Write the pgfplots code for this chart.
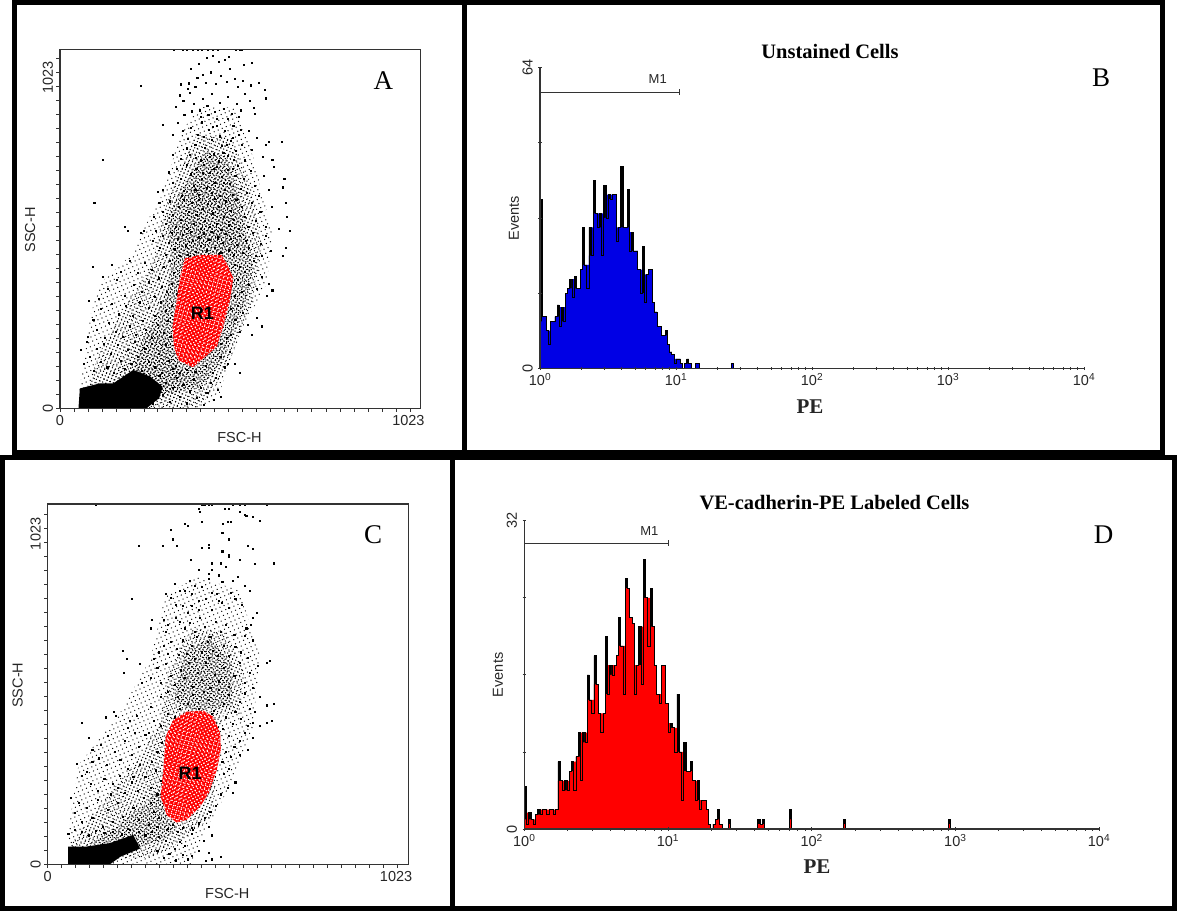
\documentclass[border=0pt]{standalone}
\usepackage{fontspec}
\setmainfont{Liberation Sans}
\newfontfamily\tms{Liberation Serif}
\usepackage{pgfplots}
\usepackage{pgfplotstable}
\usetikzlibrary{patterns.meta}
\pgfplotsset{compat=1.18}
\definecolor{axc}{gray}{0.2}
\newcommand{\labfont}{\fontsize{14.5}{15}\selectfont}
\pgfplotstableread{
ch f t
0 10 36
1 11 11
2 11 11
3 8 8
4 8 5
5 10 10
6 10 10
7 11 11
8 11 13.5
9 13 9
10 10 13
11 13 10
12 16 16
13 17 17
14 17 19
15 19 15
16 17 19.5
17 17 17
18 17 17
19 21 21
20 22 30
21 22 22
22 22 17
23 24 30
24 30 24
25 33 40
26 33 33
27 33 30
28 30 33
29 33 24
30 32 39
31 37 32
32 36 37
33 37 36
34 37 37
35 37 37
36 30 27
37 30 30
38 30 43
39 30 30
40 30 30
41 30 38
42 29 25
43 25 29
44 25 25
45 25 25
46 21 21
47 21 16
48 16 26
49 20 14
50 20 20
51 21 21
52 21 21
53 14 14
54 12 12
55 9 9
56 9 9
57 7 7
58 7 7
59 7 8
60 5 5
61 3.5 3.5
62 3 3
63 2 1
64 2 2
65 2 2
66 1 1
67 0 0
68 1 1
69 1 2
70 1 1
71 0 0
73 1 1
74 1 1
75 0 0
89 0 0
90 1 1
91 0 0
92 0 0
}\histB
\pgfplotstableread{
ch f t
0 1 4.4
1 1.7 0.5
2 1 1.7
3 1 1
4 1 0.5
5 1.5 1.5
6 1.5 2
7 2 1.5
8 2 2
9 2 2
10 2 1.5
11 2 2
12 2 2
13 2 1.5
14 2 2
15 5 7
16 5 5
17 5 4
18 4 5
19 5 4
20 6 6
21 6 7
22 7 4
23 7.5 7.5
24 7.5 10
25 10 5
26 9 10
27 10 9
28 13.4 16
29 13.4 13.4
30 13.4 12
31 15 18
32 15 15
33 12 12
34 12 10
35 12 12
36 14 20
37 17 14
38 16 17
39 17 16
40 17 17
41 18 18
42 19 22
43 19 19
44 19 14
45 25 26
46 25 25
47 22 22
48 21.3 21.3
49 17 14
50 17 17
51 17 21
52 21 15
53 24 28
54 24 24
55 24 19
56 21 25
57 21 21
58 17 17
59 14 14
60 14 13
61 17 17
62 17 17
63 13 13
64 11 10
65 10.5 11
66 10.5 10.5
67 10.5 8
68 8 14
69 8 8
70 8 3
71 6 9
72 6 6
73 6 6
74 6 7
75 5 5
76 5 3
77 3 5
78 3 2
79 3 3
80 3 3
81 2 2
82 0.5 0.5
83 0 0
84 0.5 0.5
85 1 1
86 1 2
87 0.5 0.5
88 0 0
90 0 0
91 0.5 1
92 0 0
103 0 0
104 0.5 1
105 0.5 0.5
106 0.5 1
107 0 0
117 0 0
118 1 2
119 0 0
141 0 0
142 0.5 1
143 0 0
188 0 0
189 0.5 1
190 0 0
}\histD
\pgfplotsset{
  common/.style={scale only axis, axis on top, clip mode=individual,
    axis line style={axc,line width=1.1pt},
    tick style={axc,line width=0.8pt}, tick align=outside,
    major tick length=3.5pt, minor tick length=3pt,
    every tick label/.append style={font=\labfont,text=black!85},
    label style={font=\labfont,text=black!85}},
  flow/.style={common, xmin=0, xmax=1054, ymin=0, ymax=1049,
    xtick pos=bottom, ytick pos=left,
    xtick={0,41,82,123,164,205,246,286,327,368,409,450,491,532,573,614,655,695,736,777,818,859,900,941,982},
    ytick={0,41,82,123,164,205,246,286,327,368,409,450,491,532,573,614,655,695,736,777,818,859,900,941,982},
    xticklabels={0}, yticklabels={0},
    yticklabel style={rotate=90,anchor=south},
    extra x ticks={1023}, extra x tick labels={1023},
    extra y ticks={1023}, extra y tick labels={1023},
    extra x tick style={xticklabel style={anchor=north east,xshift=18pt}},
    extra y tick style={yticklabel style={anchor=south east}},
    xlabel={FSC-H}, ylabel={SSC-H},
    xlabel style={at={(axis description cs:0.4975,-0.082)},anchor=center},
    ylabel style={at={(axis description cs:-0.083,0.497)},anchor=center,rotate=0},
  },
  hist/.style={common, xmin=0, xmax=256, ymin=0,
    axis x line=bottom, axis y line=left,
    axis line style={-},
    xtick={0,64,128,192,256},
    minor xtick={19.3,30.5,38.5,44.7,49.8,54.1,57.8,61.1,83.3,94.5,102.5,108.7,113.8,118.1,121.8,125.1,147.3,158.5,166.5,172.7,177.8,182.1,185.8,189.1,211.3,222.5,230.5,236.7,241.8,246.1,249.8,253.1},
    xticklabels={10\textsuperscript{0},10\textsuperscript{1},10\textsuperscript{2},10\textsuperscript{3},10\textsuperscript{4}},
    yticklabel style={rotate=90,anchor=south,yshift=2pt},
    xlabel={\tms\bfseries\fontsize{21}{22}\selectfont PE},
    ylabel={Events},
    title style={font=\tms\bfseries\fontsize{20.5}{22}\selectfont,text=black},
  },
  dots/.style={only marks, mark=square*, mark size=0.55pt, mark options={draw=none,fill=black}},
  sa/.style={draw=none, pattern={Dots[distance=4.4pt,radius=0.68pt,angle=23]}, pattern color=black},
  sb/.style={draw=none, pattern={Dots[distance=3.4pt,radius=0.72pt,angle=67]}, pattern color=black},
  sc/.style={draw=none, pattern={Dots[distance=2.8pt,radius=0.75pt,angle=41]}, pattern color=black},
  wa/.style={draw=none, pattern={Dots[distance=3.1pt,radius=0.78pt,angle=31]}, pattern color=white},
  wb/.style={draw=none, pattern={Dots[distance=4.1pt,radius=0.8pt,angle=73]}, pattern color=white},
}
\begin{document}
\begin{tikzpicture}[x=1pt,y=1pt]
\path[use as bounding box] (0,0) rectangle (1177,911);
% frames
\fill[black] (12,456) rectangle (17,911);
\fill[black] (12,906) rectangle (1165,911);
\fill[black] (462,456) rectangle (467,911);
\fill[black] (1160,456) rectangle (1165,911);
\fill[black] (12,451) rectangle (1165,461);
\fill[black] (0,451) rectangle (1177,456);
\fill[black] (0,0) rectangle (5,456);
\fill[black] (0,0) rectangle (1177,5);
\fill[black] (450,0) rectangle (455,456);
\fill[black] (1172,0) rectangle (1177,456);

% Panel A
\begin{axis}[flow, at={(60pt,502.7pt)}, anchor=south west, width=360.7pt, height=359pt]
\addplot[sa] coordinates {(58,63)(80,200)(88,268)(117,365)(214,453)(262,560)(292,609)(340,760)(351,804)(409,880)(506,880)(560,755)(620,511)(604,365)(526,219)(467,44)(420,0)(54,0)} --cycle;
\addplot[sb] coordinates {(70,40)(120,170)(190,300)(270,420)(300,560)(340,680)(400,800)(500,790)(560,640)(590,470)(560,300)(500,150)(440,40)(400,0)(60,0)} --cycle;
\addplot[sc] coordinates {(312,560)(370,667)(429,755)(487,735)(526,609)(545,511)(565,414)(545,317)(506,219)(467,122)(409,63)(331,44)(263,44)(214,122)(253,219)(312,336)(326,433)} --cycle;
\addplot[sb] coordinates {(340,520)(385,640)(460,680)(510,590)(525,470)(440,450)(350,440)} --cycle;
\addplot[sb] coordinates {(120,80)(180,130)(250,230)(320,210)(345,120)(380,90)(340,30)(270,20)} --cycle;
\addplot[fill=black,draw=none] coordinates {(54,0)(58,58)(117,73)(156,73)(214,112)(263,93)(300,63)(290,30)(253,0)} --cycle;
\addplot[dots] coordinates {
(332,1048)(358,1048)(371,1048)(388,1047)(402,1049)(415,1048)(431,1049)(447,1047)(462,1048)(513,1048)(531,1049)(524,1047)
(428,1025)(447,1031)(492,1027)(560,1010)(538,1003)(382,991)(497,993)(406,1006)(463,1012)(481,1018)(417,976)(441,982)(469,971)(510,962)(535,958)(401,965)(376,950)(352,947)(372,933)(395,941)(425,951)(455,948)(487,954)(518,941)(557,944)(581,952)(236,943)
(338,880)(349,915)(360,899)(378,922)(391,890)(407,871)(418,905)(430,885)(443,918)(452,866)(466,893)(479,875)(491,911)(503,860)(517,889)(529,871)(541,920)(553,900)(566,879)(600,906)(597,930)(570,860)(412,852)(384,868)(433,857)(458,846)(489,845)(521,851)(363,858)
(300,829)(330,800)(345,835)(358,812)(372,788)(383,820)(395,771)(403,800)(414,836)(422,762)(434,815)(442,784)(450,745)(459,825)(467,795)(473,766)(482,812)(490,738)(498,782)(506,825)(513,752)(521,800)(531,770)(540,725)(552,812)(560,755)(575,790)(592,735)(609,778)(620,726)(648,778)(601,770)(328,742)(352,730)(380,741)(396,733)(412,725)(437,735)(463,722)(486,769)(508,727)(529,815)(369,760)(421,793)(446,822)(477,748)(504,790)
(125,726)(318,690)(330,658)(340,700)(352,670)(362,635)(371,712)(381,684)(390,651)(398,700)(406,625)(414,670)(421,712)(429,645)(437,688)(444,630)(451,660)(459,705)(466,622)(473,677)(481,640)(489,698)(496,655)(504,625)(512,680)(520,708)(528,642)(537,670)(546,630)(557,695)(569,650)(581,622)(594,680)(610,640)(625,705)(655,672)(652,646)(300,640)(285,632)(356,622)(395,638)(418,688)(448,700)(478,658)(505,700)
(245,520)(100,600)(275,560)(290,600)(300,575)(308,540)(320,605)(328,565)(337,530)(346,590)(354,550)(361,610)(369,525)(377,575)(384,600)(391,540)(398,565)(405,610)(411,525)(418,582)(424,548)(431,598)(438,530)(445,570)(452,612)(458,540)(464,590)(471,522)(478,560)(485,605)(492,535)(499,578)(507,550)(515,610)(523,525)(531,590)(540,560)(550,530)(560,600)(572,548)(585,575)(600,530)(618,590)(640,525)(662,560)(670,520)(660,600)
(190,530)(197,520)(235,512)(270,490)(280,520)(292,470)(300,505)(310,450)(318,485)(327,512)(335,465)(343,495)(350,445)(358,508)(366,475)(373,450)(381,515)(388,490)(396,458)(404,500)(412,475)(420,510)(428,462)(436,492)(444,515)(452,470)(460,500)(468,455)(476,485)(484,510)(492,462)(500,495)(508,448)(516,478)(525,505)(534,455)(543,490)(552,468)(562,512)(573,445)(586,480)(600,505)(616,460)(650,445)(660,470)(590,445)
(95,415)(112,320)(125,385)(140,350)(152,420)(165,375)(178,400)(190,330)(203,430)(215,360)(226,395)(238,340)(247,425)(258,370)(268,405)(278,325)(288,380)(296,355)(304,415)(312,340)(320,430)(327,365)(333,395)(340,335)(510,420)(520,375)(530,340)(540,400)(552,360)(565,430)(575,350)(590,385)(603,330)(610,365)(620,345)(510,330)(525,415)
(80,210)(85,315)(97,260)(108,230)(120,290)(130,205)(142,250)(152,305)(162,225)(172,275)(182,210)(192,300)(203,240)(212,270)(222,215)(232,310)(241,255)(250,230)(259,295)(268,205)(276,270)(285,245)(294,310)(302,220)(310,285)(316,255)(322,210)(326,300)(500,290)(512,260)(525,225)(535,280)(548,245)(560,215)(575,265)(590,240)(500,215)(488,205)(520,300)
(60,170)(70,130)(78,195)(88,150)(98,110)(108,175)(118,135)(128,190)(138,120)(148,160)(158,105)(168,185)(178,140)(188,115)(198,170)(208,130)(218,195)(228,150)(238,110)(248,175)(258,135)(268,190)(278,120)(288,160)(298,105)(308,185)(318,140)(328,115)(338,125)(350,105)(370,112)(395,108)(425,125)(445,105)(470,150)(480,120)(495,165)(510,130)(525,105)(470,190)(490,130)
(250,90)(265,80)(280,60)(290,95)(300,40)(310,75)(320,20)(330,60)(340,90)(350,35)(360,70)(370,15)(380,50)(390,85)(400,30)(410,60)(420,10)(430,45)(440,75)(450,25)(460,55)(470,35)(248,30)(270,15)(455,90)
};
\addplot[fill=red,draw=none] coordinates {(365,438)(409,448)(472,448)(487,424)(506,380)(497,317)(477,239)(458,180)(419,146)(388,120)(346,141)(333,180)(329,239)(341,317)(351,385)} --cycle;
\addplot[wa] coordinates {(365,438)(409,448)(472,448)(487,424)(506,380)(497,317)(477,239)(458,180)(419,146)(388,120)(346,141)(333,180)(329,239)(341,317)(351,385)} --cycle;
\addplot[wb] coordinates {(365,438)(409,448)(472,448)(487,424)(506,380)(497,317)(477,239)(458,180)(419,146)(388,120)(346,141)(333,180)(329,239)(341,317)(351,385)} --cycle;
\node[font=\bfseries\fontsize{18}{18}\selectfont] at (axis cs:416,277) {R1};
\node[font=\tms\fontsize{27}{27}\selectfont] at (axis cs:945,957) {A};
\end{axis}

% Panel C
\begin{axis}[flow, at={(47.7pt,46.7pt)}, anchor=south west, width=361pt, height=360.3pt,
  xmax=1055, ymax=1053]
\addplot[sa] coordinates {(60,0)(62,110)(90,290)(210,440)(300,600)(345,790)(440,840)(560,800)(620,610)(600,400)(530,220)(460,100)(420,0)} --cycle;
\addplot[sb] coordinates {(70,60)(150,170)(260,300)(330,420)(350,560)(420,690)(520,680)(575,560)(560,440)(510,440)(480,140)(380,60)(300,20)(60,10)} --cycle;
\addplot[sc] coordinates {(370,480)(400,620)(470,660)(540,590)(540,460)(420,450)} --cycle;
\addplot[sc] coordinates {(120,60)(200,110)(290,180)(330,230)(345,140)(380,110)(340,70)(250,50)} --cycle;
\addplot[fill=black,draw=none] coordinates {(60,0)(60,52)(114,52)(182,62)(250,86)(270,46)(212,22)(182,0)} --cycle;
\addplot[dots] coordinates {
(450,1052)(452,1051)(460,1052)(470,1050)(480,1052)(540,1052)(560,1051)(575,1052)(640,1052)(140,1052)(445,1030)(440,1040)(518,1040)(530,1040)(560,1030)(575,1023)(580,1018)(620,1005)(525,1000)(535,1000)(598,1015)(400,995)(410,990)(450,1000)(512,995)(510,970)(360,977)(365,950)(265,930)(337,930)(378,930)(450,925)(470,935)(470,925)(530,950)(585,930)(600,922)
(530,905)(510,915)(418,890)(480,880)(505,880)(530,900)(560,890)(605,878)(660,880)(415,830)(440,860)(470,850)(480,860)(500,845)(520,870)(540,830)(555,840)(575,815)(430,815)(450,810)(470,835)(495,790)(510,825)(535,795)(548,775)(568,760)(590,800)(370,820)(385,800)(360,780)(345,790)(400,800)(420,790)(440,770)(462,775)(478,795)(508,765)(530,750)(480,745)(500,770)(440,745)(410,735)(375,760)(395,755)(420,755)
(245,775)(338,715)(350,700)(375,720)(305,715)(345,680)(385,710)(400,690)(415,705)(430,680)(445,720)(460,695)(475,665)(490,710)(505,680)(520,700)(545,670)(580,690)(600,720)(610,735)(592,700)(575,668)(300,690)(325,620)(338,640)(310,600)(360,650)(378,630)(395,655)(405,615)(422,640)(435,665)(450,620)(468,650)(482,625)(498,610)(515,640)(530,610)(548,635)(565,620)(585,605)(600,655)(430,600)(470,605)(382,612)(352,615)
(220,625)(222,560)(230,600)(270,585)(275,530)(320,575)(330,530)(345,585)(360,550)(372,525)(388,570)(400,545)(412,590)(425,520)(438,560)(450,540)(462,590)(475,515)(488,555)(500,535)(515,575)(530,520)(545,550)(560,590)(575,530)(590,560)(600,515)(615,580)(640,590)(650,595)(300,545)(350,505)(380,490)(395,510)(410,470)(425,495)(440,455)(455,505)(470,480)(485,450)(500,510)(515,470)(530,495)(548,445)(562,475)(575,500)(590,455)(605,445)(620,490)(640,465)(660,470)(655,420)(480,440)(440,425)(300,460)(330,490)(350,440)(370,430)(385,455)(405,425)(420,410)(330,405)(310,420)(255,385)(240,420)(192,445)(170,430)(200,435)(260,435)(235,400)(520,430)(540,410)(565,425)(585,405)(600,415)(640,415)(620,405)
(100,415)(120,370)(130,335)(155,350)(175,375)(195,330)(212,305)(225,360)(245,320)(265,345)(285,380)(305,300)(320,330)(332,355)(295,385)(270,290)(250,255)(235,280)(210,260)(190,235)(172,290)(150,310)(130,300)(115,270)(85,295)(100,260)(125,235)(145,215)(165,250)(185,205)(205,225)(225,210)(245,240)(262,215)(285,255)(300,225)(315,275)(330,245)(320,205)(512,395)(530,375)(545,345)(560,360)(520,330)(535,315)(510,300)(560,320)(585,335)(600,370)(575,385)(515,265)(530,280)(548,240)(540,210)(525,225)(505,205)
(68,195)(78,150)(90,180)(100,125)(115,165)(130,135)(145,190)(160,110)(175,160)(190,125)(205,180)(220,140)(235,105)(250,165)(265,130)(280,195)(295,115)(310,155)(325,135)(340,175)(320,110)(300,180)(350,105)(365,115)(395,108)(425,100)(460,135)(475,155)(490,170)(470,110)(440,120)(420,108)
(60,90)(80,100)(100,95)(120,85)(140,98)(165,92)(190,95)(215,88)(240,100)(265,95)(285,85)(305,95)(325,80)(345,70)(370,45)(385,65)(400,55)(420,25)(440,40)(462,10)(470,35)(320,40)(340,20)(355,30)(375,12)(395,28)(410,15)(480,15)(505,22)(420,90)(380,95)(480,85)(455,70)
};
\addplot[fill=red,draw=none] coordinates {(406,446)(455,449)(484,431)(504,383)(506,334)(494,276)(470,207)(445,168)(406,130)(377,122)(348,144)(330,198)(338,276)(345,373)(367,422)} --cycle;
\addplot[wa] coordinates {(406,446)(455,449)(484,431)(504,383)(506,334)(494,276)(470,207)(445,168)(406,130)(377,122)(348,144)(330,198)(338,276)(345,373)(367,422)} --cycle;
\addplot[wb] coordinates {(406,446)(455,449)(484,431)(504,383)(506,334)(494,276)(470,207)(445,168)(406,130)(377,122)(348,144)(330,198)(338,276)(345,373)(367,422)} --cycle;
\node[font=\bfseries\fontsize{18}{18}\selectfont] at (axis cs:416,266) {R1};
\node[font=\tms\fontsize{27}{27}\selectfont] at (axis cs:951,963) {C};
\end{axis}

% Panel B
\begin{axis}[hist, at={(540pt,542.7pt)}, anchor=south west, width=544pt, height=300.6pt,
  ymax=64, ytick={0,16,32,48,64}, yticklabels={0,,,,64},
  xlabel style={at={(axis description cs:0.4963,-0.1287)},anchor=center},
  ylabel style={at={(axis description cs:-0.0478,0.5)},anchor=center},
  title={Unstained Cells}, title style={at={(axis description cs:0.5331,1.0355)},anchor=center}]
\addplot[const plot, fill=black, draw=none] table[x=ch,y=t] {\histB} \closedcycle;
\addplot[const plot, fill=blue!90!black, draw=none] table[x=ch,y=f] {\histB} \closedcycle;
\addplot[const plot, black, line width=0.7pt] table[x=ch,y=t] {\histB};
\addplot[axc, line width=0.9pt, mark=|, mark size=3pt] coordinates {(0,58.8)(65.4,58.8)};
\node[font=\fontsize{13}{13}\selectfont,text=black!85] at (axis cs:55.4,61.5) {M1};
\node[font=\tms\fontsize{27}{27}\selectfont] at (axis cs:264,61.8) {B};
\end{axis}

% Panel D
\begin{axis}[hist, at={(524.3pt,82pt)}, anchor=south west, width=574.7pt, height=308.3pt,
  ymax=32, ytick={0,8,16,24,32}, yticklabels={0,,,,32},
  xlabel style={at={(axis description cs:0.5094,-0.1233)},anchor=center},
  ylabel style={at={(axis description cs:-0.0457,0.5)},anchor=center},
  title={VE-cadherin-PE Labeled Cells}, title style={at={(axis description cs:0.5397,1.0389)},anchor=center}]
\addplot[const plot, fill=black, draw=none] table[x=ch,y=t] {\histD} \closedcycle;
\addplot[const plot, fill=red, draw=none] table[x=ch,y=f] {\histD} \closedcycle;
\addplot[const plot, black, line width=0.7pt] table[x=ch,y=t] {\histD};
\addplot[axc, line width=0.9pt, mark=|, mark size=3pt] coordinates {(0,29.65)(64.4,29.65)};
\node[font=\fontsize{13}{13}\selectfont,text=black!85] at (axis cs:55.7,30.9) {M1};
\node[font=\tms\fontsize{27}{27}\selectfont] at (axis cs:258,30.6) {D};
\end{axis}
\end{tikzpicture}
\end{document}
